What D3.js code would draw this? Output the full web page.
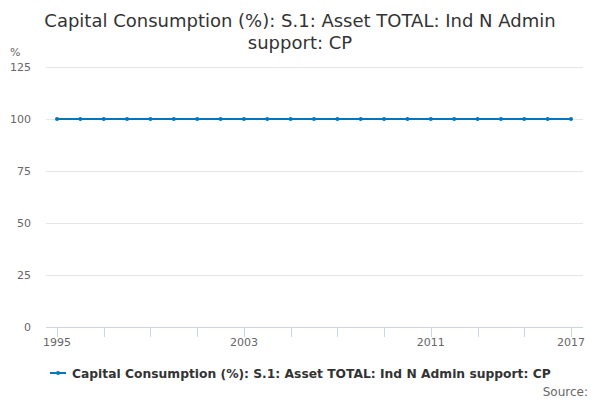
<!DOCTYPE html>
<html><head><meta charset="utf-8">
<script src="https://cdn.jsdelivr.net/npm/d3@7"></script>
<style>body{margin:0;background:#fff;font-family:"DejaVu Sans",sans-serif;}</style>
</head><body>
<svg id="c" width="600" height="400"></svg>
<script>
const years = [1995,1996,1997,1998,1999,2000,2001,2002,2003,2004,2005,2006,2007,2008,2009,2010,2011,2012,2013,2014,2015,2016,2017];
const values = [100,100,100,100,100,100,100,100,100,100,100,100,100,100,100,100,100,100,100,100,100,100,100];
const yTicks = [0,25,50,75,100,125];
const xTickMarks = [1995,1997,1999,2001,2003,2005,2007,2009,2011,2013,2015,2017];
const xLabels = [1995,2003,2011,2017];
const seriesName = "Capital Consumption (%): S.1: Asset TOTAL: Ind N Admin support: CP";

const svg = d3.select("#c");
const color = "#0076bd";
const x = d3.scaleLinear().domain([1995,2017]).range([57,571]);
const y = d3.scaleLinear().domain([0,125]).range([327,67]);
const left = 46, right = 583;

svg.append("text").attr("x",300).attr("y",27).attr("text-anchor","middle")
  .attr("font-size",18).attr("fill","#333").text("Capital Consumption (%): S.1: Asset TOTAL: Ind N Admin");
svg.append("text").attr("x",300).attr("y",49).attr("text-anchor","middle")
  .attr("font-size",18).attr("fill","#333").text("support: CP");
svg.append("text").attr("x",10).attr("y",56).attr("font-size",11).attr("fill","#666").text("%");

// grid
svg.append("g").selectAll("line").data(yTicks.filter(d=>d>0)).join("line")
  .attr("x1",left).attr("x2",right).attr("y1",d=>y(d)+0.5).attr("y2",d=>y(d)+0.5)
  .attr("stroke","#e6e6e6");
svg.append("g").selectAll("text").data(yTicks).join("text")
  .attr("x",31).attr("y",d=>y(d)+4).attr("text-anchor","end")
  .attr("font-size",11).attr("fill","#666").text(d=>d);

// x axis
svg.append("line").attr("x1",left).attr("x2",right).attr("y1",327.5).attr("y2",327.5).attr("stroke","#ccd6eb");
svg.append("g").selectAll("line").data(xTickMarks).join("line")
  .attr("x1",d=>Math.round(x(d))+0.5).attr("x2",d=>Math.round(x(d))+0.5)
  .attr("y1",327).attr("y2",337).attr("stroke","#ccd6eb");
svg.append("g").selectAll("text").data(xLabels).join("text")
  .attr("x",d=>x(d)).attr("y",346).attr("text-anchor","middle")
  .attr("font-size",11).attr("fill","#666").text(d=>d);

// series
const pts = years.map((yr,i)=>[yr,values[i]]);
svg.append("path").datum(pts)
  .attr("d",d3.line().x(d=>x(d[0])).y(d=>y(d[1])))
  .attr("fill","none").attr("stroke",color).attr("stroke-width",2);
svg.append("g").selectAll("circle").data(pts).join("circle")
  .attr("cx",d=>x(d[0])).attr("cy",d=>y(d[1])).attr("r",2).attr("fill",color);

// legend
svg.append("line").attr("x1",50).attr("x2",66).attr("y1",373).attr("y2",373).attr("stroke",color).attr("stroke-width",2);
svg.append("circle").attr("cx",58).attr("cy",373).attr("r",2).attr("fill",color);
svg.append("text").attr("x",72).attr("y",377.5).attr("font-size",12.3).attr("font-weight","bold")
  .attr("fill","#333").text(seriesName);
svg.append("text").attr("x",588).attr("y",396).attr("text-anchor","end")
  .attr("font-size",12).attr("fill","#666").text("Source:");
</script>
</body></html>
